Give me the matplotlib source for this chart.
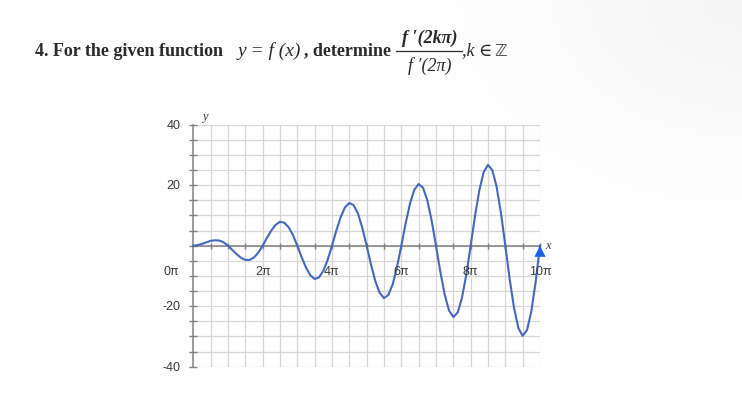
import numpy as np
import matplotlib.pyplot as plt
from matplotlib.lines import Line2D

# Curve values, one every pi/8 from 0 to 10*pi
y_vals = [0.0, 0.2, 0.6, 1.1, 1.6, 1.8, 1.7, 1.1,
          0.0, -1.4, -2.8, -4.0, -4.7, -4.7, -3.9, -2.3,
          0.0, 2.6, 5.0, 6.9, 7.9, 7.6, 6.1, 3.5,
          0.0, -3.8, -7.2, -9.8, -11.0, -10.5, -8.3, -4.7,
          0.0, 5.0, 9.4, 12.7, 14.1, 13.4, 10.6, 5.9,
          0.0, -6.2, -11.7, -15.6, -17.3, -16.3, -12.8, -7.1,
          0.0, 7.4, 13.9, 18.5, 20.4, 19.2, 15.0, 8.3,
          0.0, -8.6, -16.1, -21.4, -23.6, -22.1, -17.2, -9.5,
          0.0, 9.8, 18.3, 24.3, 26.7, 25.0, 19.4, 10.7,
          0.0, -11.0, -20.5, -27.2, -29.8, -27.9, -21.7, -11.9,
          0.0]
x_steps = np.arange(len(y_vals)) * np.pi / 8

x_ticks = [0, 2, 4, 6, 8, 10]          # multiples of pi
x_tick_labels = ['0π', '2π', '4π', '6π', '8π', '10π']
y_ticks = [40, 20, -20, -40]

CURVE = '#4767bd'
ARROW = '#1d5fe6'
AXIS = '#808080'
GRID = '#d6d6d6'
LABEL = '#3a3a3a'
INK = '#2a2a2a'

fig = plt.figure(figsize=(7.42, 4.02), dpi=100)
W, H = 742, 402

# very faint screen shading in the top right corner of the screenshot
gx, gy = np.meshgrid(np.linspace(0, 1, W), np.linspace(0, 1, H))
d = np.sqrt(((1 - gx) * 2.4) ** 2 + (gy * 1.8) ** 2)
shade = 1 - 0.04 * np.clip(1 - d / 1.0, 0, 1)
fig.figimage(np.dstack([shade] * 3), xo=0, yo=0, origin='upper', zorder=-10)

# axes placed so that 0..10pi and -40..40 land where the screenshot has them
x0, x1, ytop, ybot = 193.3, 540.0, 125.7, 367.7
ax = fig.add_axes([x0 / W, 1 - ybot / H, (x1 - x0) / W, (ybot - ytop) / H])
ax.set_zorder(5)
ax.patch.set_alpha(0)
ax.set_xlim(0, 10 * np.pi)
ax.set_ylim(-40, 40)
for s in ax.spines.values():
    s.set_visible(False)
ax.set_xticks([])
ax.set_yticks([])

# grid every pi/2 and every 5
for v in np.arange(1, 21) * np.pi / 2:
    ax.axvline(v, color=GRID, lw=0.9, zorder=1)
for v in np.arange(-40, 45, 5):
    ax.axhline(v, color=GRID, lw=0.9, zorder=1)

# axes lines with small tick marks
ax.plot([0, 10 * np.pi], [0, 0], color=AXIS, lw=1.1, zorder=2, clip_on=False)
ax.plot([0, 0], [-40, 40], color=AXIS, lw=1.1, zorder=2, clip_on=False)
ax.plot(np.arange(1, 21) * np.pi / 2, np.zeros(20), ls='none', marker='|',
        ms=5, mew=1.0, color=AXIS, zorder=2, clip_on=False)
ax.plot(np.zeros(17), np.arange(-40, 45, 5), ls='none', marker='_',
        ms=6, mew=1.0, color=AXIS, zorder=2, clip_on=False)

# the curve and its end arrow
ax.plot(x_steps, y_vals, color=CURVE, lw=1.5, zorder=3, clip_on=False)
ax.annotate('', xy=(x_steps[-1], y_vals[-1]),
            xytext=(x_steps[-1], y_vals[-1] - 6),
            arrowprops=dict(arrowstyle='-|>,head_length=0.8,head_width=0.4',
                            color=ARROW, lw=0, shrinkA=0, shrinkB=0),
            zorder=4, annotation_clip=False)

# tick labels
lab_font = dict(family='Liberation Sans', fontsize=9, color=LABEL)
for k, lab in zip(x_ticks, x_tick_labels):
    xpos = -2.0 if k == 0 else k * np.pi
    ax.text(xpos, -8.2, lab, ha='center', va='center', **lab_font)
for v in y_ticks:
    ax.text(-1.15, v, str(v), ha='right', va='center', **lab_font)
ax.text(1.0, 43.0, 'y', ha='center', va='center', family='Liberation Serif',
        style='italic', fontsize=9, color=LABEL)
ax.text(10 * np.pi + 0.7, 0.2, 'x', ha='center', va='center',
        family='Liberation Serif', style='italic', fontsize=9, color=LABEL)

# question text at the top
serif = dict(family='Liberation Serif', fontsize=13, color=INK)
fig.text(35 / W, 1 - 51 / H, '4. For the given function', ha='left',
         va='center', weight='bold', **serif)
fig.text(238 / W, 1 - 51 / H, 'y = f (x)', ha='left', va='center',
         style='italic', family='Liberation Serif', fontsize=14, color=INK)
fig.text(304 / W, 1 - 51 / H, ', determine', ha='left', va='center',
         weight='bold', **serif)
fig.text(430 / W, 1 - 38 / H, 'f ′(2kπ)', ha='center', va='center',
         style='italic', weight='bold', **serif)
fig.text(430 / W, 1 - 66 / H, 'f ′(2π)', ha='center', va='center',
         style='italic', **serif)
fig.add_artist(Line2D([396 / W, 462 / W], [1 - 52 / H, 1 - 52 / H],
                      color=INK, lw=0.9))
fig.text(462 / W, 1 - 51 / H, ',k ∈', ha='left', va='center',
         family=['Liberation Serif', 'DejaVu Serif'], fontsize=13,
         style='italic', color=INK)
fig.text(494 / W, 1 - 51 / H, 'ℤ', ha='left', va='center',
         family=['DejaVu Sans'], fontsize=12, weight='bold', color='#555555')

fig.savefig('out.png', dpi=100)
